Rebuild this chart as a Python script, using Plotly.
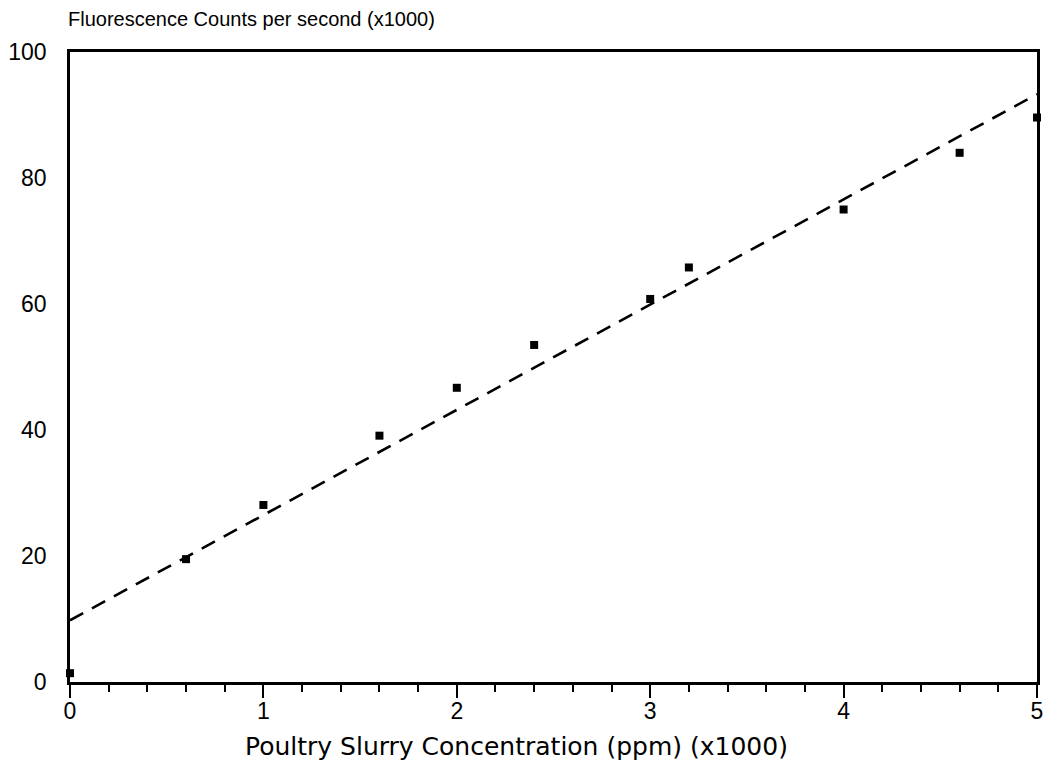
import plotly.graph_objects as go

# Measured fluorescence vs slurry concentration
concentration = [0, 0.6, 1.0, 1.6, 2.0, 2.4, 3.0, 3.2, 4.0, 4.6, 5.0]
counts = [1.4, 19.5, 28.1, 39.1, 46.7, 53.5, 60.8, 65.8, 75.0, 84.0, 89.6]

# Fitted calibration line endpoints
fit_x = [0, 5]
fit_y = [9.8, 93.3]

x_ticks = [0, 1, 2, 3, 4, 5]
y_ticks = [0, 20, 40, 60, 80, 100]

FONT = "Liberation Sans"

fig = go.Figure()
fig.add_trace(go.Scatter(
    x=fit_x, y=fit_y, mode="lines",
    line=dict(color="black", width=2.6, dash="15px,10px"),
    showlegend=False, hoverinfo="skip",
))
fig.add_trace(go.Scatter(
    x=concentration, y=counts, mode="markers",
    marker=dict(symbol="square", size=8, color="black"),
    cliponaxis=False, showlegend=False,
))

fig.update_layout(
    width=1046, height=760,
    margin=dict(l=70, r=9, t=52, b=78),
    plot_bgcolor="white", paper_bgcolor="white",
    font=dict(family=FONT, color="black"),
    xaxis=dict(
        range=[0, 5], tickvals=x_ticks, ticktext=[str(v) for v in x_ticks],
        showgrid=False, zeroline=False, automargin=False,
        showline=True, linecolor="black", linewidth=2.5, mirror=True,
        ticks="outside", ticklen=13, tickwidth=2, tickcolor="black",
        minor=dict(dtick=0.2, ticks="outside", ticklen=7, tickwidth=2, tickcolor="black"),
        tickfont=dict(size=23, family=FONT), ticklabelstandoff=-6,
    ),
    yaxis=dict(
        range=[0, 100], tickvals=y_ticks, ticktext=[str(v) for v in y_ticks],
        showgrid=False, zeroline=False, automargin=False,
        showline=True, linecolor="black", linewidth=2.5, mirror=True,
        ticks="", ticklabelstandoff=16,
        tickfont=dict(size=23, family=FONT),
    ),
    annotations=[
        dict(text="Fluorescence Counts per second (x1000)", xref="paper", yref="paper",
             x=0, y=1, xshift=-4, yshift=20, xanchor="left", yanchor="bottom",
             showarrow=False, font=dict(size=20, family=FONT)),
        dict(text="Poultry Slurry Concentration (ppm) (x1000)", xref="paper", yref="paper",
             x=0.462, y=0, yshift=-48, xanchor="center", yanchor="top",
             showarrow=False, font=dict(size=25, family="DejaVu Sans")),
    ],
)

fig.write_html("out.html")
